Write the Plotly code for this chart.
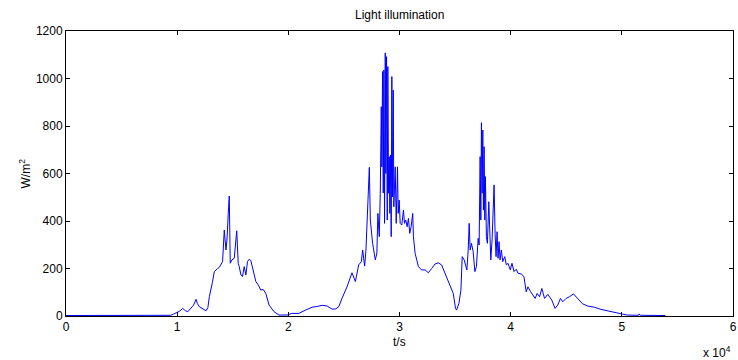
import plotly.graph_objects as go

# time in seconds, illumination in W/m^2
t_s = [0, 4800, 8400, 9400, 9670, 9940, 10209, 10504, 10746, 10952, 11194, 11463, 11704, 11821, 12000,
       12268, 12600, 12761, 12895, 13164, 13343, 13639, 13791, 14086, 14238, 14391, 14480, 14597, 14686,
       14776, 14928, 15134, 15286, 15358, 15492, 15582, 15734, 15877, 16030, 16182, 16325, 16477, 16630,
       16835, 17077, 17310, 17525, 17731, 17973, 18269, 18716, 19164, 19880, 20328, 20955, 21555, 22146,
       22567, 23041, 23489, 23936, 24268, 24537, 24832, 25280, 25728, 26032, 26327, 26569, 26686, 26865,
       26982, 27161, 27286, 27376, 27581, 27823, 27966, 28056, 28181, 28271, 28360, 28414, 28477, 28539,
       28593, 28656, 28718, 28772, 28835, 28898, 28952, 29014, 29077, 29131, 29193, 29256, 29310, 29372,
       29435, 29489, 29614, 29704, 29820, 29883, 29972, 30062, 30205, 30357, 30447, 30563, 30689, 30805,
       30921, 31047, 31190, 31253, 31405, 31701, 31997, 32301, 32596, 32892, 33196, 33492, 33788, 34092,
       34325, 34836, 35042, 35131, 35346, 35525, 35641, 35820, 35937, 36062, 36179, 36268, 36358, 36474,
       36627, 36779, 36922, 37075, 37164, 37254, 37317, 37370, 37433, 37495, 37549, 37611, 37674, 37728,
       37818, 37907, 38033, 38122, 38212, 38329, 38418, 38508, 38598, 38687, 38777, 38867, 38956, 39046,
       39162, 39288, 39467, 39610, 39762, 39968, 40118, 40298, 40504, 40656, 40951, 41193, 41399, 41551,
       41793, 41999, 42205, 42384, 42599, 42805, 43047, 43342, 43700, 43996, 44238, 44479, 44685, 44981,
       45286, 45644, 46030, 46477, 46925, 47525, 48116, 48716, 49316, 50059, 50506, 51491, 51554, 51670,
       53910]
w_m2 = [2, 2, 2, 3, 8, 15, 20, 32, 22, 18, 30, 45, 70, 52, 39,
        30, 22, 35, 81, 140, 187, 200, 205, 229, 362, 278, 320, 433, 505,
        222, 236, 243, 306, 359, 222, 208, 173, 166, 208, 173, 229, 239, 233,
        187, 145, 130, 109, 112, 95, 46, 18, 4, 4, 11, 11, 25, 37,
        40, 45, 42, 29, 30, 39, 75, 123, 182, 145, 215, 229, 278, 210,
        278, 446, 626, 404, 306, 236, 265, 432, 334, 517, 881, 628, 1029, 518,
        1036, 390, 1108, 600, 1092, 404, 1050, 517, 671, 432, 678, 334, 1008, 502,
        951, 460, 628, 390, 628, 432, 488, 390, 383, 446, 390, 404, 376, 411,
        348, 376, 432, 334, 264, 208, 194, 194, 182, 200, 219, 224, 215, 180,
        152, 95, 32, 25, 53, 109, 250, 236, 215, 194, 278, 390, 278, 306,
        271, 187, 208, 327, 299, 671, 404, 814, 517, 783, 446, 713, 404, 587,
        334, 306, 481, 306, 236, 320, 404, 552, 348, 250, 355, 243, 313, 236,
        278, 229, 250, 215, 222, 194, 222, 187, 197, 180, 177, 166, 102, 123,
        102, 88, 74, 95, 81, 116, 74, 91, 67, 32, 46, 74, 60, 74,
        81, 93, 74, 51, 42, 37, 28, 21, 16, 8, 4, 3, 9, 3,
        2]

x_tick_vals = [0, 10000, 20000, 30000, 40000, 50000, 60000]
x_tick_text = ["0", "1", "2", "3", "4", "5", "6"]
y_tick_vals = [0, 200, 400, 600, 800, 1000, 1200]

font = dict(family="Liberation Sans, Arial, sans-serif", size=12, color="black")

fig = go.Figure()
fig.add_trace(go.Scatter(x=t_s, y=w_m2, mode="lines",
                         line=dict(color="#0000ff", width=1), showlegend=False))

axis_common = dict(showline=True, linecolor="black", linewidth=1, mirror="ticks",
                   ticks="inside", ticklen=4, tickcolor="black", tickwidth=1,
                   showgrid=False, zeroline=False, tickfont=font,
                   ticklabeloverflow="allow")

fig.update_xaxes(range=[0, 60000], tickvals=x_tick_vals, ticktext=x_tick_text, **axis_common)
fig.update_yaxes(range=[0, 1200], tickvals=y_tick_vals, **axis_common)

fig.update_layout(
    width=738, height=360,
    margin=dict(l=66, r=1, t=31, b=44),
    paper_bgcolor="white", plot_bgcolor="white",
    font=font,
    annotations=[
        dict(text="Light illumination", x=0.5, y=1, xref="paper", yref="paper",
             xanchor="center", yanchor="bottom", yshift=7, showarrow=False, font=font),
        dict(text="t/s", x=0.5, y=0, xref="paper", yref="paper",
             xanchor="center", yanchor="top", yshift=-17, showarrow=False, font=font),
        dict(text="W/m<sup>2</sup>", x=0, y=0.5, xref="paper", yref="paper",
             xanchor="right", yanchor="middle", xshift=-32, textangle=-90,
             showarrow=False, font=font),
        dict(text="x 10<sup>4</sup>", x=1, y=0, xref="paper", yref="paper",
             xanchor="right", yanchor="top", yshift=-26, showarrow=False, font=font),
    ],
)

fig.write_html("out.html")
